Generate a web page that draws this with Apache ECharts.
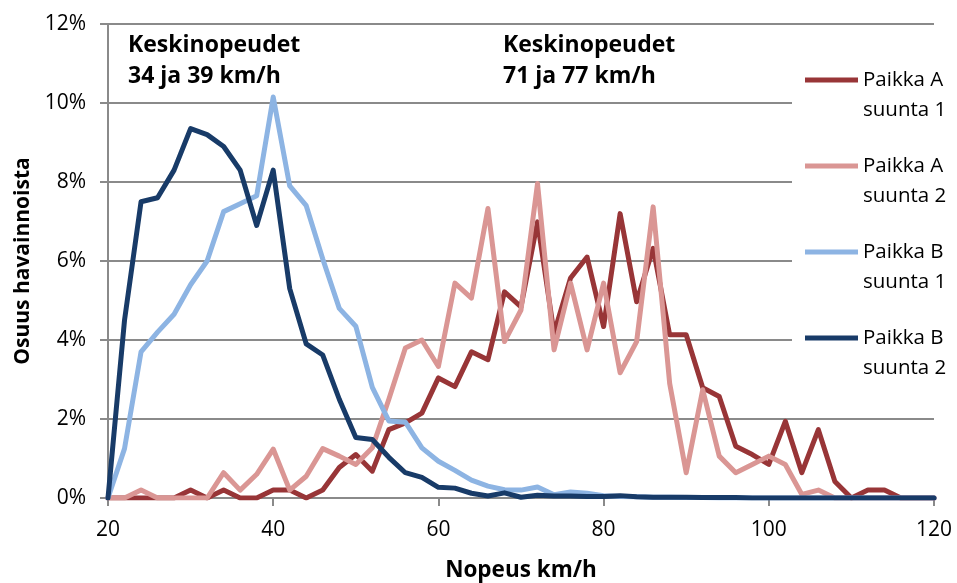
<!DOCTYPE html>
<html>
<head>
<meta charset="utf-8">
<script src="https://cdn.jsdelivr.net/npm/echarts@6/dist/echarts.min.js"></script>
<style>
  html, body { margin: 0; padding: 0; background: #ffffff; }
  #chart { width: 957px; height: 583px; }
</style>
</head>
<body>
<div id="chart"></div>
<script>
// Nopeusjakaumat: osuus havainnoista (%) nopeusluokittain (km/h)
const speeds = [20, 22, 24, 26, 28, 30, 32, 34, 36, 38, 40, 42, 44, 46, 48, 50, 52, 54, 56, 58,
                60, 62, 64, 66, 68, 70, 72, 74, 76, 78, 80, 82, 84, 86, 88, 90, 92, 94, 96, 98,
                100, 102, 104, 106, 108, 110, 112, 114, 116, 118, 120];

const paikkaA1 = [0, 0, 0, 0, 0, 0.2, 0, 0.2, 0, 0, 0.2, 0.2, 0, 0.2, 0.77, 1.1, 0.68, 1.73, 1.9, 2.15,
                  3.04, 2.82, 3.7, 3.5, 5.22, 4.84, 6.99, 4.17, 5.57, 6.1, 4.34, 7.2, 4.97, 6.32, 4.13, 4.13, 2.79, 2.57, 1.31, 1.1,
                  0.85, 1.94, 0.64, 1.73, 0.42, 0, 0.2, 0.2, 0, 0, 0];

const paikkaA2 = [0, 0, 0.2, 0, 0, 0, 0, 0.64, 0.2, 0.6, 1.24, 0.2, 0.55, 1.25, 1.06, 0.85, 1.27, 2.5, 3.8, 4.0,
                  3.33, 5.44, 5.06, 7.33, 3.96, 4.76, 7.96, 3.75, 5.44, 3.75, 5.44, 3.17, 3.96, 7.37, 2.9, 0.64, 2.74, 1.06, 0.64, 0.85,
                  1.06, 0.85, 0.09, 0.2, 0, 0, 0, 0, 0, 0, 0];

const paikkaB1 = [0, 1.25, 3.7, 4.2, 4.65, 5.4, 6.0, 7.25, 7.45, 7.65, 10.15, 7.9, 7.4, 6.05, 4.8, 4.35, 2.8, 1.95, 1.92, 1.27,
                  0.93, 0.7, 0.45, 0.3, 0.21, 0.2, 0.28, 0.08, 0.15, 0.12, 0.06, 0.04, 0.03, 0.02, 0.02, 0.01, 0.01, 0, 0, 0,
                  0, 0, 0, 0, 0, 0, 0, 0, 0, 0, 0];

const paikkaB2 = [0, 4.5, 7.5, 7.6, 8.3, 9.35, 9.2, 8.9, 8.3, 6.9, 8.3, 5.3, 3.9, 3.62, 2.5, 1.53, 1.48, 1.03, 0.64, 0.52,
                  0.27, 0.25, 0.12, 0.05, 0.13, 0.02, 0.07, 0.05, 0.05, 0.04, 0.04, 0.06, 0.03, 0.02, 0.02, 0.02, 0.01, 0.01, 0.01, 0,
                  0, 0, 0, 0, 0, 0, 0, 0, 0, 0, 0];

const seriesNames = ['Paikka A\nsuunta 1', 'Paikka A\nsuunta 2', 'Paikka B\nsuunta 1', 'Paikka B\nsuunta 2'];
const seriesColors = ['#983537', '#da9694', '#8db4e3', '#183b68'];
const seriesValues = [paikkaA1, paikkaA2, paikkaB1, paikkaB2];

const annotations = ['Keskinopeudet\n34 ja 39 km/h', 'Keskinopeudet\n71 ja 77 km/h'];

const FONT = '"Open Sans", Lato, sans-serif';
const GRID_GRAY = '#8a8a8a';

const chart = echarts.init(document.getElementById('chart'), null, { renderer: 'canvas' });

const option = {
  backgroundColor: '#ffffff',
  animation: false,
  textStyle: { fontFamily: FONT },
  title: annotations.map((t, i) => ({
    text: t,
    left: i === 0 ? 123 : 498,
    top: 25,
    textStyle: { fontFamily: FONT, fontSize: 23, fontWeight: 'bold', color: '#000', lineHeight: 31 }
  })),
  legend: {
    orient: 'vertical',
    left: 792,
    top: 35,
    padding: [0, 10, 12, 13],
    itemGap: -4,
    itemWidth: 53,
    itemHeight: 5,
    icon: 'rect',
    backgroundColor: '#ffffff',
    selectedMode: false,
    // leading blank line keeps the line marker level with the first text row
    formatter: name => '\n' + name,
    textStyle: { fontFamily: FONT, fontSize: 20.5, color: '#000', lineHeight: 30 },
    data: seriesNames
  },
  grid: { left: 108, right: 23, top: 24, bottom: 85, outerBoundsMode: 'none' },
  xAxis: {
    type: 'value',
    min: 20, max: 120, interval: 20,
    name: 'Nopeus km/h',
    nameLocation: 'middle',
    nameGap: 61,
    nameTextStyle: { fontFamily: FONT, fontSize: 22.5, fontWeight: 'bold', color: '#000' },
    axisLine: { show: true, lineStyle: { color: GRID_GRAY, width: 2 } },
    axisTick: { show: true, length: 8, lineStyle: { color: GRID_GRAY, width: 2 } },
    axisLabel: { fontFamily: FONT, fontSize: 21, color: '#000', margin: 22 },
    splitLine: { show: false }
  },
  yAxis: {
    type: 'value',
    min: 0, max: 12, interval: 2,
    name: 'Osuus havainnoista',
    nameLocation: 'middle',
    nameGap: 70,
    nameRotate: 90,
    nameTextStyle: { fontFamily: FONT, fontSize: 21, fontWeight: 'bold', color: '#000' },
    axisLine: { show: true, lineStyle: { color: GRID_GRAY, width: 2 } },
    axisTick: { show: true, length: 8, lineStyle: { color: GRID_GRAY, width: 2 } },
    axisLabel: { fontFamily: FONT, fontSize: 21, color: '#000', margin: 22, formatter: '{value}%' },
    splitLine: { show: true, lineStyle: { color: GRID_GRAY, width: 2 } }
  },
  series: seriesNames.map((name, i) => ({
    name: name,
    type: 'line',
    data: speeds.map((s, k) => [s, seriesValues[i][k]]),
    showSymbol: false,
    symbol: 'none',
    color: seriesColors[i],
    lineStyle: { width: 5, color: seriesColors[i], join: 'round', cap: 'round' }
  }))
};

chart.setOption(option);
</script>
</body>
</html>
